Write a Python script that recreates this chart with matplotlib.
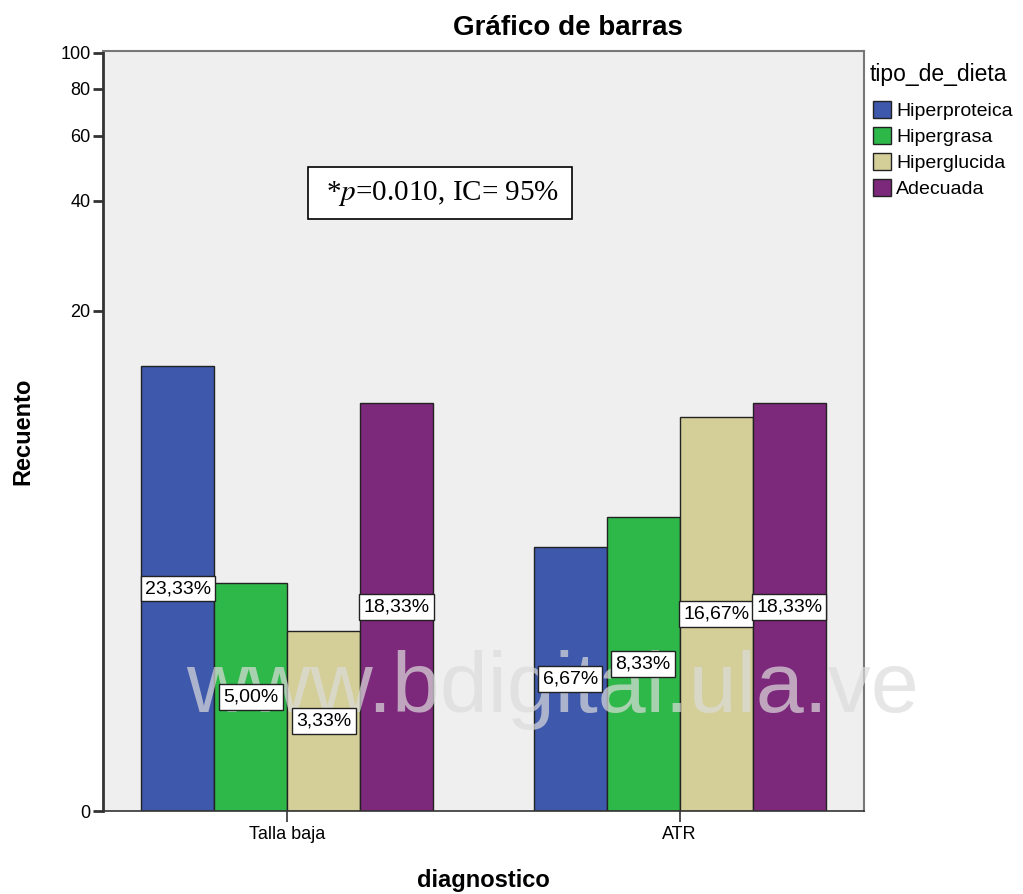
import matplotlib.pyplot as plt
import numpy as np

plt.rcParams['font.family'] = ['Liberation Sans', 'DejaVu Sans']

categorias = ["Talla baja", "ATR"]
dietas = ["Hiperproteica", "Hipergrasa", "Hiperglucida", "Adecuada"]
recuento = {
    "Hiperproteica": [14, 4],
    "Hipergrasa": [3, 5],
    "Hiperglucida": [2, 10],
    "Adecuada": [11, 11],
}
porcentajes = {
    "Hiperproteica": ["23,33%", "6,67%"],
    "Hipergrasa": ["5,00%", "8,33%"],
    "Hiperglucida": ["3,33%", "16,67%"],
    "Adecuada": ["18,33%", "18,33%"],
}
colores = ["#3e58ac", "#2fb84a", "#d4cf98", "#7c287b"]
yticks = [0, 20, 40, 60, 80, 100]

H = 894
fig = plt.figure(figsize=(10.23, 8.94), dpi=100)
ax = fig.add_axes([0.1007, 0.0928, 0.7439, 0.8501])
ax.set_facecolor("#efefef")
ax.set_yscale("function", functions=(np.log1p, np.expm1))

x = np.arange(len(categorias))
w = 0.186
for i, d in enumerate(dietas):
    xs = x + (i - 1.5) * w
    vals = np.array(recuento[d], dtype=float)
    ax.bar(xs, vals, width=w, color=colores[i], edgecolor="#222222",
           linewidth=1, label=d, zorder=2)
    mids = np.expm1(np.log1p(vals) / 2)
    for xx, yy, t in zip(xs, mids, porcentajes[d]):
        ax.text(xx, yy, t, ha="center", va="center", fontsize=14, zorder=4,
                bbox=dict(boxstyle="square,pad=0.22", fc="white", ec="#222222", lw=1))

ax.set_xlim(-0.47, 1.47)
ax.set_ylim(0, 101)
ax.set_yticks(yticks)
ax.set_yticklabels([str(v) for v in yticks], fontsize=13)
ax.set_xticks(x)
ax.set_xticklabels(categorias, fontsize=13)
ax.tick_params(axis="y", length=7, width=2, color="#333333", pad=2)
ax.tick_params(axis="x", length=8, width=1.2, color="#333333", pad=3)
for s in ["left", "bottom"]:
    ax.spines[s].set_color("#333333")
ax.spines["left"].set_linewidth(2)
ax.spines["bottom"].set_linewidth(1.2)
for s in ["top", "right"]:
    ax.spines[s].set_color("#777777")
    ax.spines[s].set_linewidth(1.5)

fig.text(23 / 1023, 1 - 431 / H, "Recuento", rotation=90, ha="center", va="center",
         fontsize=17, fontweight="bold")
fig.text(483 / 1023, 1 - 880 / H, "diagnostico", ha="center", va="center",
         fontsize=17, fontweight="bold")
fig.text(568 / 1023, 1 - 28 / H, "Gráfico de barras", ha="center", va="center",
         fontsize=20, fontweight="bold")

ax.text(440, H - 193, " *$p$=0.010, IC= 95% ", transform=None, ha="center", va="center",
        fontsize=21, family=["Liberation Serif", "DejaVu Serif"],
        math_fontfamily="stix", zorder=5,
        bbox=dict(boxstyle="square,pad=0.4", fc="white", ec="black", lw=1.2))

fig.text(870 / 1023, 1 - 75 / H, "tipo_de_dieta", ha="left", va="center", fontsize=16.5)
leg = fig.legend(loc="upper left", bbox_to_anchor=(873 / 1023, 1 - 101 / H),
                 fontsize=14, frameon=False, handlelength=0.9, handleheight=0.95,
                 handletextpad=0.3, labelspacing=0.36, borderaxespad=0,
                 borderpad=0.0)

# marca de agua, por encima de las barras pero debajo de las etiquetas
ax.text(553 / 1023, 1 - 690 / H, "www.bdigital.ula.ve", transform=fig.transFigure,
        ha="center", va="center", fontsize=62, color="#dcdcdc", alpha=0.7,
        zorder=3, clip_on=False)

fig.savefig("out.png", dpi=100)
